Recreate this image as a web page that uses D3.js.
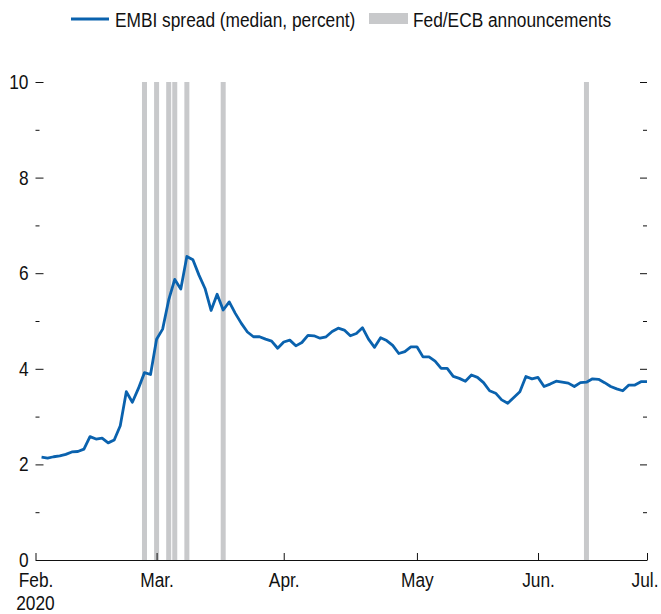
<!DOCTYPE html>
<html>
<head>
<meta charset="utf-8">
<script src="https://cdn.jsdelivr.net/npm/d3@7"></script>
<style>
  html, body { margin: 0; padding: 0; background: #fff; }
  svg { display: block; }
  text { font-family: "Liberation Sans", Arial, sans-serif; fill: #111; }
</style>
</head>
<body>
<svg id="chart" width="661" height="614"></svg>
<script>
// ---- Data (index-based trading-day axis) ----
const spreadValues = [
  2.15, 2.13, 2.16, 2.18, 2.21, 2.26, 2.27, 2.32, 2.58, 2.53,
  2.55, 2.45, 2.51, 2.81, 3.52, 3.30, 3.59, 3.92, 3.88, 4.62,
  4.83, 5.44, 5.87, 5.67, 6.35, 6.28, 5.96, 5.68, 5.22, 5.56,
  5.23, 5.40, 5.16, 4.95, 4.77, 4.67, 4.67, 4.62, 4.58, 4.43,
  4.56, 4.60, 4.48, 4.55, 4.70, 4.69, 4.64, 4.67, 4.78, 4.85,
  4.81, 4.69, 4.74, 4.86, 4.62, 4.45, 4.65, 4.59, 4.49, 4.32,
  4.36, 4.46, 4.46, 4.25, 4.25, 4.16, 4.01, 4.01, 3.84, 3.80,
  3.74, 3.87, 3.82, 3.71, 3.54, 3.49, 3.35, 3.28, 3.40, 3.52,
  3.84, 3.79, 3.82, 3.63, 3.68, 3.74, 3.72, 3.70, 3.63, 3.71,
  3.72, 3.79, 3.78, 3.71, 3.63, 3.58, 3.54, 3.66, 3.66, 3.73,
  3.73
];
const firstIndex = 1;                 // first observation index on the axis
const announcementIndex = [18, 20, 22, 23, 25, 31, 91];
const monthTickIndex = [0, 20, 41, 63, 83, 101];
const monthTickLabels = ["Feb.", "Mar.", "Apr.", "May", "Jun.", "Jul."];
const yearLabel = "2020";
const yMajorTicks = [0, 2, 4, 6, 8, 10];
const yMinorTicks = [1, 3, 5, 7, 9];
const seriesLabel = "EMBI spread (median, percent)";
const barLabel = "Fed/ECB announcements";

(function () {
// ---- Layout ----
const svg = d3.select("#chart");
const mLeft = 35.5, mRight = 647, mTop = 82, mBottom = 560;
const lineColor = "#0a62ae", barColor = "#c8c9cb";
const fontSize = 20;
const narrow = 0.865; // condensed face emulation

const x = d3.scaleLinear().domain([0, 101]).range([mLeft, mRight]);
const y = d3.scaleLinear().domain([0, 10]).range([mBottom, mTop]);

// announcement bars
svg.append("g").selectAll("rect")
  .data(announcementIndex)
  .join("rect")
  .attr("x", d => x(d) - 2.5)
  .attr("width", 5)
  .attr("y", y(10))
  .attr("height", y(0) - y(10))
  .attr("fill", barColor);

// left axis (ticks inward, labels outside)
const gL = svg.append("g").attr("transform", `translate(${mLeft},0)`)
  .call(d3.axisLeft(y).tickValues(yMajorTicks).tickSizeInner(-8).tickSizeOuter(0).tickPadding(7).tickFormat(d3.format("d")));
gL.select(".domain").remove();
gL.selectAll("line").attr("stroke", "#111");
gL.selectAll("text").attr("font-size", fontSize).attr("font-family", null).attr("fill", "#111");
const gLm = svg.append("g").attr("transform", `translate(${mLeft},0)`)
  .call(d3.axisLeft(y).tickValues(yMinorTicks).tickSizeInner(-4).tickSizeOuter(0).tickFormat(""));
gLm.select(".domain").remove();
gLm.selectAll("line").attr("stroke", "#111");

// right axis (ticks inward, no labels)
const gR = svg.append("g").attr("transform", `translate(${mRight},0)`)
  .call(d3.axisRight(y).tickValues(yMajorTicks.filter(d => d > 0)).tickSizeInner(-7).tickSizeOuter(0).tickFormat(""));
gR.select(".domain").remove();
gR.selectAll("line").attr("stroke", "#111");
const gRm = svg.append("g").attr("transform", `translate(${mRight},0)`)
  .call(d3.axisRight(y).tickValues(yMinorTicks).tickSizeInner(-4).tickSizeOuter(0).tickFormat(""));
gRm.select(".domain").remove();
gRm.selectAll("line").attr("stroke", "#111");

// bottom axis
const gB = svg.append("g").attr("transform", `translate(0,${mBottom})`)
  .call(d3.axisBottom(x).tickValues(monthTickIndex).tickSizeInner(-7).tickSizeOuter(0).tickPadding(13)
    .tickFormat((d, i) => monthTickLabels[i]));
gB.select(".domain").attr("stroke", "#111");
gB.selectAll("line").attr("stroke", "#111");
gB.selectAll("text").attr("font-size", fontSize).attr("font-family", null).attr("fill", "#111");
gB.selectAll(".tick").filter((d, i, n) => i === n.length - 1).select("text")
  .attr("text-anchor", "end").attr("x", 11);
gB.append("text").attr("class", "year")
  .attr("x", x(monthTickIndex[0])).attr("y", 50)
  .attr("text-anchor", "middle").attr("font-size", fontSize).attr("fill", "#111")
  .text(yearLabel);

// line
const line = d3.line()
  .x((d, i) => x(i + firstIndex))
  .y(d => y(d));
svg.append("path")
  .datum(spreadValues)
  .attr("fill", "none")
  .attr("stroke", lineColor)
  .attr("stroke-width", 2.8)
  .attr("stroke-linejoin", "round")
  .attr("d", line);

// legend
const lg = svg.append("g");
lg.append("line").attr("x1", 71).attr("x2", 109).attr("y1", 19).attr("y2", 19)
  .attr("stroke", lineColor).attr("stroke-width", 2.8);
lg.append("text").attr("x", 115).attr("y", 27).attr("font-size", fontSize).text(seriesLabel);
lg.append("rect").attr("x", 369).attr("y", 13).attr("width", 39).attr("height", 11).attr("fill", barColor);
lg.append("text").attr("x", 413).attr("y", 27).attr("font-size", fontSize).text(barLabel);

// condense all text to emulate a narrow face
svg.selectAll("text").each(function () {
  const len = this.getComputedTextLength();
  if (len > 0) {
    d3.select(this).attr("textLength", (len * narrow).toFixed(2)).attr("lengthAdjust", "spacingAndGlyphs");
  }
});
})();
</script>
</body>
</html>
